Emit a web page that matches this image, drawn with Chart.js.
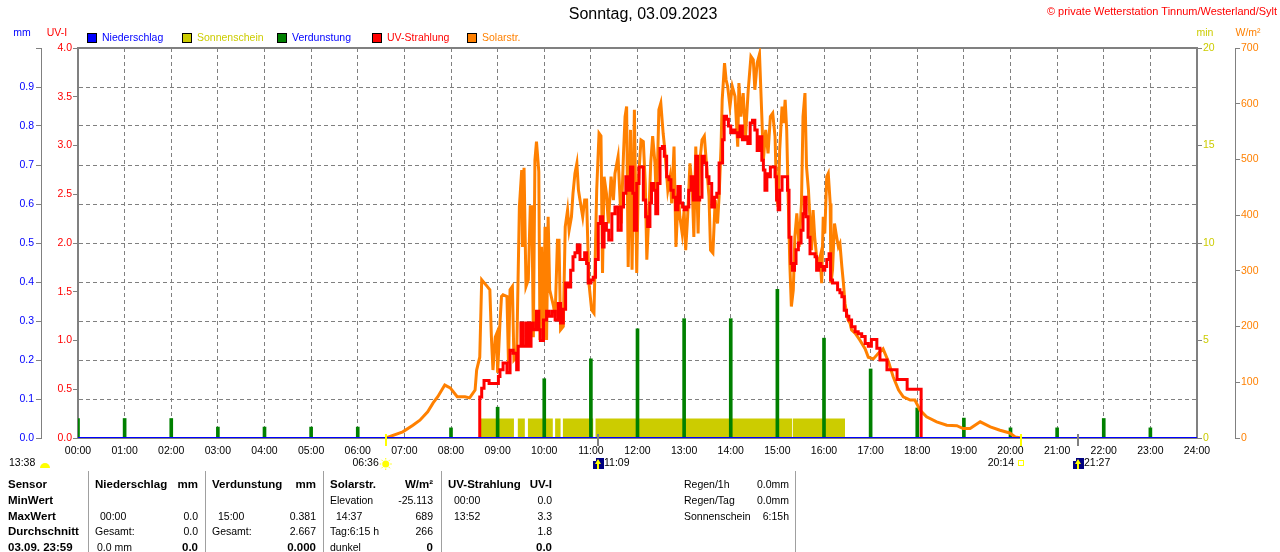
<!DOCTYPE html>
<html><head><meta charset="utf-8">
<script src="https://cdn.jsdelivr.net/npm/chart.js@4.4.0/dist/chart.umd.min.js"></script>
<style>html,body{margin:0;padding:0;background:#fff;overflow:hidden}canvas{display:block}</style>
</head><body>
<canvas id="c" width="1280" height="552"></canvas>
<script>
// ---------- data (time in minutes since 00:00) ----------
const solarTimes = [
 396,398,418,431,440,450,457,463,472,479,
 488,498,504,511,513,517,519.5,526,530,532,
 534,537,539,540,543,545,547,552,554,556,
 559,561,564.5,568,571,572,574,576.5,579.5,582,
 584,586,588,590,593,594.5,596.5,599,601,603,
 605,607,612,614,617,619,621,624.5,627,630,
 632,635,637,639.5,642,644,646,649.5,652,654.5,
 657.5,661,664,667.5,670.5,673,675,677,680,682.5,
 686,689,691,695,699,702,704,706,708,711,
 713,716,719,721,724.5,727.5,730,732,735,737,
 739.5,742.5,744.5,747.5,750,753,755,759,762,764,
 767,769.5,772.5,774.5,777.5,780,782,784.5,787.5,790.5,
 792.5,795,798,800,803,806,809,812,814,817,
 820,823,825,827.5,829,832,834,836,839,842,
 845.5,849,850.5,853,856,859,862.5,866,869,871,
 874,877,880,882,885,888,891,894,897,899,
 901,903,906,908,910,912,914,916,918,920.5,
 922.5,925,928,931,933,935.5,937.5,940,942,944,
 946,948,950.5,953,955,957,959,961,963.5,965.5,
 968,969,971,973.5,975.5,978.5,980.5,983,985,987,
 989,991,993.5,995.5,1000,1006,1013,1017,1023.5,1030,
 1036,1043,1049,1056,1062,1071,1077,1083.5,1092,1105,
 1118,1131,1139,1148,1161,1174,1186.5,1199,1206,1214];
const solarValues = [
 0,1,11,23,32,47,63,74,95,90,
 74,74,72,86,122,145,284,273,266,181,
 122,181,188,117,206,254,257,254,134,266,
 272,140,146,415,481,343,485,272,284,415,
 415,181,499,532,478,176,343,181,379,176,
 397,266,236,218,355,355,194,200,379,409,
 373,397,439,475,493,445,427,397,427,427,
 278,230,224,445,547,542,296,469,439,385,
 469,427,475,505,385,511,577,595,307,553,
 302,589,296,457,535,532,457,320,415,493,
 542,493,415,589,601,547,520,445,469,421,
 523,343,439,397,367,409,337,397,493,445,
 361,523,367,493,535,542,487,433,337,332,
 427,385,433,523,607,673,643,631,595,631,
 613,523,637,577,619,541,625,685,679,625,
 673,689,577,499,553,511,577,583,541,433,
 415,517,595,565,607,553,427,313,236,266,
 361,403,343,421,577,619,487,445,391,337,
 409,361,325,313,325,278,397,367,469,475,
 421,278,302,385,367,343,349,307,278,242,
 224,212,206,194,188,176,160,145,142,152,
 160,137,110,86,74,68,68,50,38,29,
 23,22,17,17,29,20,14,9,2,0];

const uvTimes = [
 516.5,517,519.5,522.5,529,538,541,543,547,552,
 556,560,564.5,566.5,570,573,577,580,583,586,
 590,593,595,599,603,606,610,614,618,621,
 624.5,627.5,631,634,637,639.5,642.5,646,649.5,652,
 654.5,656.5,660,663,666,669.5,672,675,677,680,
 683,687,691,695,699,702,705,708,711,714,
 716,719,722,727.5,730.5,733,736,738,741,743.5,
 746,749,752,754.5,757.5,760.5,763,766,769,772,
 775,778,780,783.5,786,789,792,795,797.5,800,
 803,806,809,812,815.5,819,822,825,827.5,829.5,
 831.5,834.5,837,840,843,845.5,849,852,855,858.5,
 862,865,868,871,874,877,880,882,884,886.5,
 888,891,894,897,899,901,903,906,910,913,
 915,917.5,919.5,922,924,927,930.5,933,935,937,
 939.5,942,945,948.5,950.5,953,956,959,961,963.5,
 966.5,968.5,971,974,977.5,980.5,983,986,989,992,
 995.5,1000,1004,1008.5,1013,1017,1021,1028,1032,1041,
 1049,1054,1064,1067,1084,1085];
const uvValues = [
 0,0.42,0.51,0.59,0.56,0.56,0.63,0.70,0.77,0.67,
 0.90,0.87,0.70,0.94,1.18,0.94,1.18,0.94,1.18,1.11,
 1.30,1.11,1.00,1.21,1.30,1.25,1.30,1.21,1.38,1.18,
 1.32,1.59,1.55,1.72,1.86,1.90,1.98,1.83,1.83,1.90,
 1.79,1.59,1.62,1.65,1.83,2.20,2.27,1.96,2.20,2.13,
 2.03,2.30,2.37,2.13,2.37,2.51,2.68,2.54,2.78,2.51,
 2.13,2.61,2.78,2.44,2.27,2.17,2.41,2.61,2.54,2.30,
 2.61,2.97,2.99,2.89,2.68,2.65,2.54,2.47,2.34,2.58,
 2.41,2.37,2.34,2.37,2.54,2.68,2.44,2.89,2.44,2.47,
 2.89,2.82,2.68,2.61,2.37,2.47,2.51,2.82,2.82,3.06,
 3.30,3.27,3.20,3.13,3.16,3.13,3.09,3.20,3.06,3.09,
 3.02,3.23,3.26,3.16,2.95,3.09,2.85,2.75,2.54,2.71,
 2.68,2.78,2.78,2.68,2.44,2.34,2.54,2.68,2.68,2.54,
 2.06,1.79,1.72,1.79,1.93,2.00,2.13,2.30,2.47,2.27,
 2.06,1.89,1.89,1.86,1.72,1.79,1.76,1.72,1.76,1.83,
 1.89,1.62,1.59,1.59,1.52,1.49,1.45,1.31,1.25,1.21,
 1.14,1.09,1.07,1.04,0.97,0.94,1.01,0.92,0.80,0.70,
 0.70,0.60,0.60,0.50,0.50,0];

const sunStart = [516, 566, 579, 614, 624, 666, 920];
const sunEnd   = [561, 575, 611, 621, 663, 919, 987];

const evapHours  = [0,1,2,3,4,5,6,8,9,10,11,12,13,14,15,16,17,18,19,20,21,22,23];
const evapValues = [0.05,0.05,0.05,0.028,0.028,0.028,0.028,0.026,0.079,0.152,0.203,0.28,0.306,0.306,0.381,0.256,0.177,0.077,0.051,0.026,0.026,0.05,0.026];

const rainTimes  = [0, 1440];
const rainValues = [0.0, 0.0];

const hourLabels = ['00:00','01:00','02:00','03:00','04:00','05:00','06:00','07:00','08:00','09:00','10:00','11:00','12:00','13:00','14:00','15:00','16:00','17:00','18:00','19:00','20:00','21:00','22:00','23:00','24:00'];

const titleText = 'Sonntag, 03.09.2023';
const copyrightText = '\u00A9 private Wetterstation Tinnum/Westerland/Sylt';

// sun / moon events (minutes, label)
const eventTimes  = [396, 669, 1214, 1287];
const eventLabels = ['06:36', '11:09', '20:14', '21:27'];

// ---------- build ----------
const FONT = "'Liberation Sans', Arial, sans-serif";
const pts = (ts, vs) => ts.map((t, i) => ({x: t, y: vs[i]})).filter(p => p.y !== undefined);
const sunPoints = [{x: 0, y: 0}];
sunStart.forEach((s, i) => { sunPoints.push({x: s, y: 1}); sunPoints.push({x: sunEnd[i], y: 0}); });
sunPoints.push({x: 1440, y: 0});

Chart.defaults.font.family = FONT;
Chart.defaults.font.size = 10.5;
Chart.defaults.color = '#000';

function txt(ctx, s, x, y, color, o) {
  o = o || {};
  ctx.save();
  ctx.font = (o.bold ? 'bold ' : '') + (o.size || 10.5) + 'px ' + FONT;
  ctx.fillStyle = color;
  ctx.textAlign = o.align || 'left';
  ctx.textBaseline = 'middle';
  if (o.maxWidth) ctx.fillText(s, x, y, o.maxWidth); else ctx.fillText(s, x, y);
  ctx.restore();
}

const legendItems = [
  {label: 'Niederschlag', box: '#0000FF', text: '#0000FF', x: 87},
  {label: 'Sonnenschein', box: '#CCCC00', text: '#CCCC00', x: 182},
  {label: 'Verdunstung',  box: '#008000', text: '#0000FF', x: 277},
  {label: 'UV-Strahlung', box: '#FF0000', text: '#FF0000', x: 372},
  {label: 'Solarstr.',    box: '#FF8000', text: '#FF8000', x: 467}
];

const tableCells = [
  // x, y, text, align, bold
  [8,485,'Sensor','left',1],[95,485,'Niederschlag','left',1],[198,485,'mm','right',1],
  [212,485,'Verdunstung','left',1],[316,485,'mm','right',1],[330,485,'Solarstr.','left',1],
  [433,485,'W/m\u00B2','right',1],[448,485,'UV-Strahlung','left',1],[552,485,'UV-I','right',1],
  [684,485,'Regen/1h','left',0],[789,485,'0.0mm','right',0],
  [8,501,'MinWert','left',1],[330,501,'Elevation','left',0],[433,501,'-25.113','right',0],
  [454,501,'00:00','left',0],[552,501,'0.0','right',0],[684,501,'Regen/Tag','left',0],[789,501,'0.0mm','right',0],
  [8,517,'MaxWert','left',1],[100,517,'00:00','left',0],[198,517,'0.0','right',0],
  [218,517,'15:00','left',0],[316,517,'0.381','right',0],[336,517,'14:37','left',0],[433,517,'689','right',0],
  [454,517,'13:52','left',0],[552,517,'3.3','right',0],[684,517,'Sonnenschein','left',0],[789,517,'6:15h','right',0],
  [8,532,'Durchschnitt','left',1],[95,532,'Gesamt:','left',0],[198,532,'0.0','right',0],
  [212,532,'Gesamt:','left',0],[316,532,'2.667','right',0],[330,532,'Tag:6:15 h','left',0],
  [433,532,'266','right',0],[552,532,'1.8','right',0],
  [8,548,'03.09. 23:59','left',1],[97,548,'0.0 mm','left',0],[198,548,'0.0','right',1],
  [316,548,'0.000','right',1],[330,548,'dunkel','left',0],[433,548,'0','right',1],[552,548,'0.0','right',1]
];
const tableSeparators = [88.5, 205.5, 323.5, 441.5, 795.5];

const framePlugin = {
  id: 'frame',
  beforeDatasetsDraw(chart) {
    const {ctx, chartArea: a} = chart;
    ctx.save();
    ctx.strokeStyle = '#808080';
    ctx.lineWidth = 2;
    ctx.strokeRect(a.left, a.top, a.right - a.left, a.bottom - a.top);
    ctx.restore();
  },
  afterDraw(chart) {
    const {ctx} = chart;
    const xs = chart.scales.x;
    // title & copyright
    txt(ctx, titleText, 643, 15, '#000', {size: 16, align: 'center'});
    txt(ctx, copyrightText, 1277, 12, '#FF0000', {size: 11, align: 'right', maxWidth: 230});
    // legend
    legendItems.forEach(it => {
      ctx.fillStyle = it.box; ctx.fillRect(it.x, 33, 10, 10);
      ctx.strokeStyle = '#000'; ctx.lineWidth = 1; ctx.strokeRect(it.x + 0.5, 33.5, 9, 9);
      txt(ctx, it.label, it.x + 15, 38, it.text);
    });
    // axis titles
    txt(ctx, 'mm', 22, 33, '#0000FF', {align: 'center'});
    txt(ctx, 'UV-I', 57, 33, '#FF0000', {align: 'center'});
    txt(ctx, 'min', 1205, 33, '#CCCC00', {align: 'center'});
    txt(ctx, 'W/m\u00B2', 1248, 33, '#FF8000', {align: 'center'});
    // event marks on the time axis
    const bottom = chart.chartArea.bottom;
    eventTimes.forEach((t, i) => {
      const px = Math.round(xs.getPixelForValue(t));
      ctx.fillStyle = (i === 0 || i === 2) ? '#FFFF00' : '#808080';
      ctx.fillRect(px - 1, bottom - 4, 2, 12);
    });
    // 13:38 with half sun
    txt(ctx, '13:38', 9, 463, '#000');
    ctx.fillStyle = '#FFFF00';
    ctx.beginPath(); ctx.arc(45, 468, 5, Math.PI, 0); ctx.closePath(); ctx.fill();
    // sunrise
    let p = xs.getPixelForValue(eventTimes[0]);
    txt(ctx, eventLabels[0], p - 7, 463, '#000', {align: 'right'});
    ctx.fillStyle = '#FFFF00';
    ctx.beginPath(); ctx.arc(p, 464, 3.5, 0, Math.PI * 2); ctx.fill();
    ctx.strokeStyle = '#FFFF00'; ctx.lineWidth = 1;
    for (let k = 0; k < 8; k++) {
      const an = k * Math.PI / 4;
      ctx.beginPath(); ctx.moveTo(p + Math.cos(an) * 4.5, 464 + Math.sin(an) * 4.5);
      ctx.lineTo(p + Math.cos(an) * 6, 464 + Math.sin(an) * 6); ctx.stroke();
    }
    // moon icons
    [1, 3].forEach(i => {
      const q = Math.round(xs.getPixelForValue(eventTimes[i]));
      ctx.fillStyle = '#000080'; ctx.fillRect(q - 5, 458, 11, 11);
      ctx.fillStyle = '#FFFF00';
      ctx.beginPath(); ctx.moveTo(q, 459); ctx.lineTo(q + 3, 464); ctx.lineTo(q - 3, 464); ctx.closePath(); ctx.fill();
      ctx.fillRect(q - 1, 463, 2, 6);
      ctx.fillStyle = '#FFFFFF'; ctx.fillRect(q - 5, 458, 3, 3);
      txt(ctx, eventLabels[i], q + 6, 463, '#000');
    });
    // sunset
    p = Math.round(xs.getPixelForValue(eventTimes[2]));
    txt(ctx, eventLabels[2], p - 7, 463, '#000', {align: 'right'});
    ctx.strokeStyle = '#FFFF00'; ctx.lineWidth = 1; ctx.strokeRect(p - 2.5, 460.5, 5, 5);
    // table
    ctx.save();
    ctx.strokeStyle = '#A0A0A0'; ctx.lineWidth = 1;
    tableSeparators.forEach(x => { ctx.beginPath(); ctx.moveTo(x, 471); ctx.lineTo(x, 552); ctx.stroke(); });
    ctx.restore();
    tableCells.forEach(c => txt(ctx, c[2], c[0], c[1], '#000', {align: c[3], bold: !!c[4], size: c[4] ? 11.5 : 10.5}));
  }
};

const gray = '#808080';
new Chart(document.getElementById('c'), {
  data: {
    datasets: [
      {type: 'line', label: 'Niederschlag', data: pts(rainTimes, rainValues), yAxisID: 'yMM',
       borderColor: '#0000FF', borderWidth: 2, pointRadius: 0, tension: 0, order: 0},
      {type: 'line', label: 'UV-Strahlung', data: pts(uvTimes, uvValues), yAxisID: 'yUV',
       borderColor: '#FF0000', borderWidth: 3, pointRadius: 0, tension: 0, stepped: 'before', order: 1},
      {type: 'line', label: 'Solarstr.', data: pts(solarTimes, solarValues), yAxisID: 'yW',
       borderColor: '#FF8000', borderWidth: 3, pointRadius: 0, tension: 0, order: 2},
      {type: 'bar', label: 'Verdunstung', data: pts(evapHours.map(h => h * 60), evapValues), yAxisID: 'yMM',
       backgroundColor: '#008000', borderWidth: 0, barThickness: 3, order: 3},
      {type: 'line', label: 'Sonnenschein', data: sunPoints, yAxisID: 'yMin',
       borderColor: 'rgba(0,0,0,0)', borderWidth: 0, backgroundColor: '#CCCC00', fill: 'origin',
       stepped: 'before', pointRadius: 0, order: 4}
    ]
  },
  options: {
    responsive: false, animation: false, devicePixelRatio: 1,
    layout: {padding: {top: 48, bottom: 94, left: 0, right: 0}},
    plugins: {legend: {display: false}, title: {display: false}, tooltip: {enabled: false}},
    scales: {
      x: {type: 'linear', position: 'bottom', min: 0, max: 1440, offset: false,
          afterFit: s => { s.height = 20; },
          ticks: {stepSize: 60, autoSkip: false, maxRotation: 0, minRotation: 0, padding: 7, color: '#000',
                  callback: v => hourLabels[Math.round(v / 60)]},
          grid: {color: gray, lineWidth: 1, drawTicks: false, offset: false},
          border: {display: false, dash: [4, 3]}},
      yUV: {type: 'linear', position: 'left', weight: 0, min: 0, max: 4,
            afterFit: s => { s.width = 37; },
            ticks: {stepSize: 0.5, color: '#FF0000', padding: 1, callback: v => v.toFixed(1)},
            grid: {drawOnChartArea: false, color: gray, tickColor: gray, tickLength: 5},
            border: {display: false}},
      yMM: {type: 'linear', position: 'left', weight: 1, min: 0, max: 1,
            afterFit: s => { s.width = 41; },
            ticks: {stepSize: 0.1, color: '#0000FF', padding: 2, callback: v => v > 0.95 ? '' : v.toFixed(1)},
            grid: {color: gray, tickColor: gray, tickLength: 5, tickBorderDash: [], lineWidth: 1},
            border: {display: true, color: gray, width: 1, dash: [4, 3]}},
      yMin: {type: 'linear', position: 'right', weight: 0, min: 0, max: 20,
             afterFit: s => { s.width = 38; },
             ticks: {stepSize: 5, color: '#CCCC00', padding: 1},
             grid: {drawOnChartArea: false, color: gray, tickColor: gray, tickLength: 5},
             border: {display: false}},
      yW: {type: 'linear', position: 'right', weight: 1, min: 0, max: 700,
           afterFit: s => { s.width = 45; },
           ticks: {stepSize: 100, color: '#FF8000', padding: 1},
           grid: {drawOnChartArea: false, color: gray, tickColor: gray, tickLength: 5},
           border: {display: true, color: gray, width: 1}}
    }
  },
  plugins: [framePlugin]
});
</script>
</body></html>
